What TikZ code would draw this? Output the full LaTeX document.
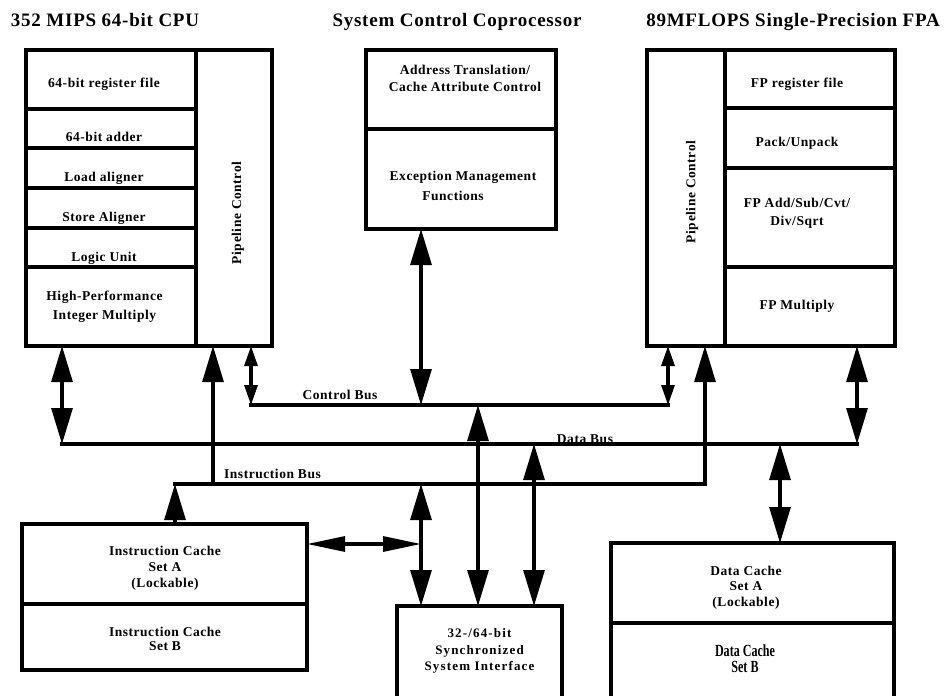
\documentclass[tikz,border=0pt]{standalone}
\usepackage{fontspec}
\setmainfont{Liberation Serif}[LetterSpace=4]
\newfontfamily\plainfam{Liberation Serif}
\newfontfamily\widefam{Liberation Serif}[LetterSpace=9]
\usetikzlibrary{arrows.meta}
\begin{document}
\begin{tikzpicture}[x=1pt,y=-1pt,
  blk/.style={draw, line width=3.3pt, anchor=north west, inner sep=0pt, outer sep=0pt},
  txt/.style={font=\bfseries\fontsize{13.5}{16}\selectfont, inner sep=0pt, anchor=base},
  mtxt/.style={font=\bfseries\fontsize{13.5}{#1}\selectfont, inner sep=0pt, align=center, anchor=center},
  ttl/.style={font=\bfseries\fontsize{19}{22}\selectfont, inner sep=0pt, anchor=base},
  bus/.style={line width=3.1pt, line cap=rect},
  conn/.style={line width=3.1pt},
  up/.style={conn, -{Triangle[length=36pt,width=21pt]}},
  dbl/.style={conn, {Triangle[length=36pt,width=21pt]}-{Triangle[length=36pt,width=21pt]}},
  hdbl/.style={conn, {Triangle[length=38pt,width=15pt]}-{Triangle[length=38pt,width=15pt]}},
  sdbl/.style={conn, {Triangle[length=20pt,width=13pt]}-{Triangle[length=20pt,width=13pt]}}]
\useasboundingbox (0,0) rectangle (946,696);
\clip (0,0) rectangle (946,696);

% titles
\node[ttl] (t-cpu) at (105,27) {352 MIPS 64-bit CPU};
\node[ttl] (t-scc) at (457,27) {System Control Coprocessor};
\node[ttl] (t-fpa) at (793,27) {89MFLOPS Single-Precision FPA};

% CPU block
\node[blk, minimum width=170pt, minimum height=59pt] (cpu1) at (26,50) {};
\node[blk, minimum width=170pt, minimum height=39pt] (cpu2) at (26,109) {};
\node[blk, minimum width=170pt, minimum height=40pt] (cpu3) at (26,148) {};
\node[blk, minimum width=170pt, minimum height=40pt] (cpu4) at (26,188) {};
\node[blk, minimum width=170pt, minimum height=39pt] (cpu5) at (26,228) {};
\node[blk, minimum width=170pt, minimum height=79pt] (cpu6) at (26,267) {};
\node[blk, minimum width=76pt, minimum height=296pt] (cpuP) at (196,50) {};
\node[txt] (l-cpu1) at (104,87.5) {64-bit register file};
\node[txt] (l-cpu2) at (104,141.5) {64-bit adder};
\node[txt] (l-cpu3) at (104,181.5) {Load aligner};
\node[txt] (l-cpu4) at (104,221.5) {Store Aligner};
\node[txt] (l-cpu5) at (104,261) {Logic Unit};
\node[mtxt=18.5] (l-cpu6) at (104.5,306.5) {High-Performance\\Integer Multiply};
\node[txt, anchor=center, rotate=90] (l-cpuP) at (238,213) {Pipeline Control};

% System control coprocessor
\node[blk, minimum width=190pt, minimum height=79pt] (sccA) at (366,50) {};
\node[blk, minimum width=190pt, minimum height=100pt] (sccB) at (366,129) {};
\node[mtxt=17] (l-sccA) at (465,78.5) {Address Translation/\\Cache Attribute Control};
\node[mtxt=20] (l-sccB) at (463,185.5) {Exception Management\\Functions\hspace*{20pt}};

% FPA block
\node[blk, minimum width=78pt, minimum height=296pt] (fpaP) at (647,50) {};
\node[blk, minimum width=170pt, minimum height=58pt] (fpa1) at (725,50) {};
\node[blk, minimum width=170pt, minimum height=60pt] (fpa2) at (725,108) {};
\node[blk, minimum width=170pt, minimum height=99pt] (fpa3) at (725,168) {};
\node[blk, minimum width=170pt, minimum height=79pt] (fpa4) at (725,267) {};
\node[txt] (l-fpa1) at (797,87) {FP register file};
\node[txt] (l-fpa2) at (797,146) {Pack/Unpack};
\node[mtxt=18] (l-fpa3) at (797,213) {FP Add/Sub/Cvt/\\Div/Sqrt};
\node[txt] (l-fpa4) at (797,309.5) {FP Multiply};
\node[txt, anchor=center, rotate=90] (l-fpaP) at (692,192) {Pipeline Control};

% Instruction cache
\node[blk, minimum width=285pt, minimum height=80pt] (icA) at (22,524) {};
\node[blk, minimum width=285pt, minimum height=66pt] (icB) at (22,604) {};
\node[mtxt=16] (l-icA) at (165,568) {Instruction Cache\\Set A\\(Lockable)};
\node[mtxt=14] (l-icB) at (165,639) {Instruction Cache\\Set B};

% System interface
\node[blk, minimum width=165pt, minimum height=110pt] (sysif) at (397,606) {};
\node[font=\widefam\bfseries\fontsize{13}{16.5}\selectfont, inner sep=0pt, align=center] (l-sys) at (479.5,651) {32-/64-bit\\Synchronized\\System Interface};

% Data cache
\node[blk, minimum width=283pt, minimum height=80pt] (dcA) at (611,543) {};
\node[blk, minimum width=283pt, minimum height=100pt] (dcB) at (611,623) {};
\node[mtxt=15.5] (l-dcA) at (746,587.5) {Data Cache\\Set A\\(Lockable)};
\node[inner sep=0pt] (l-dcB) at (745,661) {\scalebox{0.71}[1]{\plainfam\bfseries\fontsize{17}{14.5}\selectfont\begin{tabular}{@{}c@{}}Data Cache\\Set B\end{tabular}}};

% bus labels
\node[txt] (l-cb) at (340,399) {Control Bus};
\node[txt] (l-db) at (585,443) {Data Bus};
\node[txt] (l-ib) at (272.5,478) {Instruction Bus};

% bus coordinates
\coordinate (cb-w) at (251,405);
\coordinate (cb-e) at (668,405);
\coordinate (db-w) at (62,444);
\coordinate (db-e) at (857,444);
\coordinate (ib-w) at (175,484);
\coordinate (ib-e) at (705,484);
\coordinate (ib-cpu) at (213,484);
\coordinate (cb-scc) at (421,405);
\coordinate (cb-sys) at (478,405);
\coordinate (db-sys) at (534,444);
\coordinate (ib-sys) at (421,484);
\coordinate (ic-link) at (421,544);
\coordinate (db-dc) at (780,444);

% buses
\draw[bus] (cb-w) -- (cb-e);
\draw[bus] (db-w) -- (db-e);
\draw[bus] (ib-w) -- (ib-e);

% connectors
\draw[dbl] (db-w |- cpu6.south) -- (db-w);
\draw[up] (ib-cpu) -- (ib-cpu |- cpuP.south);
\draw[sdbl] (cb-w |- cpuP.south) -- (cb-w);
\draw[dbl] (cb-scc |- sccB.south) -- (cb-scc);
\draw[sdbl] (cb-e |- fpaP.south) -- (cb-e);
\draw[up] (ib-e) -- (ib-e |- fpaP.south);
\draw[dbl] (db-e |- fpa4.south) -- (db-e);
\draw[dbl] (db-dc) -- (db-dc |- dcA.north);
\draw[up] (ib-w |- icA.north) -- (ib-w);
\draw[dbl] (ib-sys) -- (ib-sys |- sysif.north);
\draw[hdbl] (ic-link -| icA.east) -- (ic-link);
\draw[dbl] (cb-sys) -- (cb-sys |- sysif.north);
\draw[dbl] (db-sys) -- (db-sys |- sysif.north);
\end{tikzpicture}
\end{document}
